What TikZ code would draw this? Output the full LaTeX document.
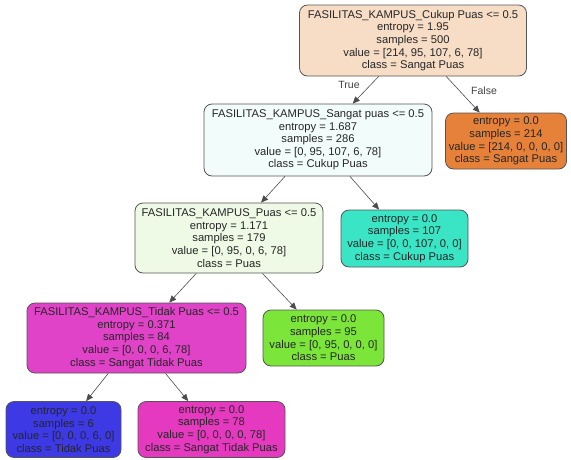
\documentclass[tikz,border=0pt]{standalone}
\usepackage{fontspec}
\setmainfont{Liberation Sans}
\usetikzlibrary{arrows.meta}
\definecolor{cRoot}{HTML}{F8DDC6}
\definecolor{cOrange}{HTML}{E58139}
\definecolor{cN2}{HTML}{F2FCFB}
\definecolor{cN3}{HTML}{EEFAE6}
\definecolor{cTeal}{HTML}{39E5C5}
\definecolor{cN4}{HTML}{E043C8}
\definecolor{cGreen}{HTML}{7BE539}
\definecolor{cBlue}{HTML}{3C39E5}
\definecolor{cPink}{HTML}{E539C0}
\definecolor{cLine}{HTML}{555555}
\tikzset{
  treenode/.style={draw=cLine, line width=0.8pt, rounded corners=8pt, align=center,
    font=\fontsize{11.2}{12.6}\selectfont, text=black!85, inner sep=1pt},
  edge/.style={draw=black!70, line width=0.6pt, -{Triangle[length=7pt,width=6pt]}},
  elabel/.style={font=\fontsize{10.5}{12}\selectfont, text=black!75}
}
\begin{document}
\begin{tikzpicture}[x=1pt,y=-1pt]
\useasboundingbox (0,0) rectangle (571,459);
\node[treenode, fill=cRoot, minimum width=227, minimum height=71] (root) at (413,40.5)
  {FASILITAS\_KAMPUS\_Cukup Puas <= 0.5\\entropy = 1.95\\samples = 500\\value = [214, 95, 107, 6, 78]\\class = Sangat Puas};
\node[treenode, fill=cOrange, minimum width=121, minimum height=56] (orange) at (506,141)
  {entropy = 0.0\\samples = 214\\value = [214, 0, 0, 0, 0]\\class = Sangat Puas};
\node[treenode, fill=cN2, minimum width=228, minimum height=72] (n2) at (318,140)
  {FASILITAS\_KAMPUS\_Sangat puas <= 0.5\\entropy = 1.687\\samples = 286\\value = [0, 95, 107, 6, 78]\\class = Cukup Puas};
\node[treenode, fill=cN3, minimum width=188, minimum height=70] (n3) at (229,238)
  {FASILITAS\_KAMPUS\_Puas <= 0.5\\entropy = 1.171\\samples = 179\\value = [0, 95, 0, 6, 78]\\class = Puas};
\node[treenode, fill=cTeal, minimum width=127, minimum height=57] (teal) at (404.5,238.5)
  {entropy = 0.0\\samples = 107\\value = [0, 0, 107, 0, 0]\\class = Cukup Puas};
\node[treenode, fill=cN4, minimum width=219, minimum height=70] (n4) at (136.5,338)
  {FASILITAS\_KAMPUS\_Tidak Puas <= 0.5\\entropy = 0.371\\samples = 84\\value = [0, 0, 0, 6, 78]\\class = Sangat Tidak Puas};
\node[treenode, fill=cGreen, minimum width=121, minimum height=56] (green) at (323.5,338)
  {entropy = 0.0\\samples = 95\\value = [0, 95, 0, 0, 0]\\class = Puas};
\node[treenode, fill=cBlue, minimum width=115, minimum height=56] (blue) at (63.5,429.5)
  {entropy = 0.0\\samples = 6\\value = [0, 0, 0, 6, 0]\\class = Tidak Puas};
\node[treenode, fill=cPink, minimum width=147, minimum height=56] (pink) at (211.5,429.5)
  {entropy = 0.0\\samples = 78\\value = [0, 0, 0, 0, 78]\\class = Sangat Tidak Puas};
\draw[edge] (root) -- (n2);
\draw[edge] (root) -- (orange);
\draw[edge] (n2) -- (n3);
\draw[edge] (n2) -- (teal);
\draw[edge] (n3) -- (n4);
\draw[edge] (n3) -- (green);
\draw[edge] (n4) -- (blue);
\draw[edge] (n4) -- (pink);
\node[elabel] (tlabel) at (349,85) {True};
\node[elabel] (flabel) at (484,91) {False};
\end{tikzpicture}
\end{document}
